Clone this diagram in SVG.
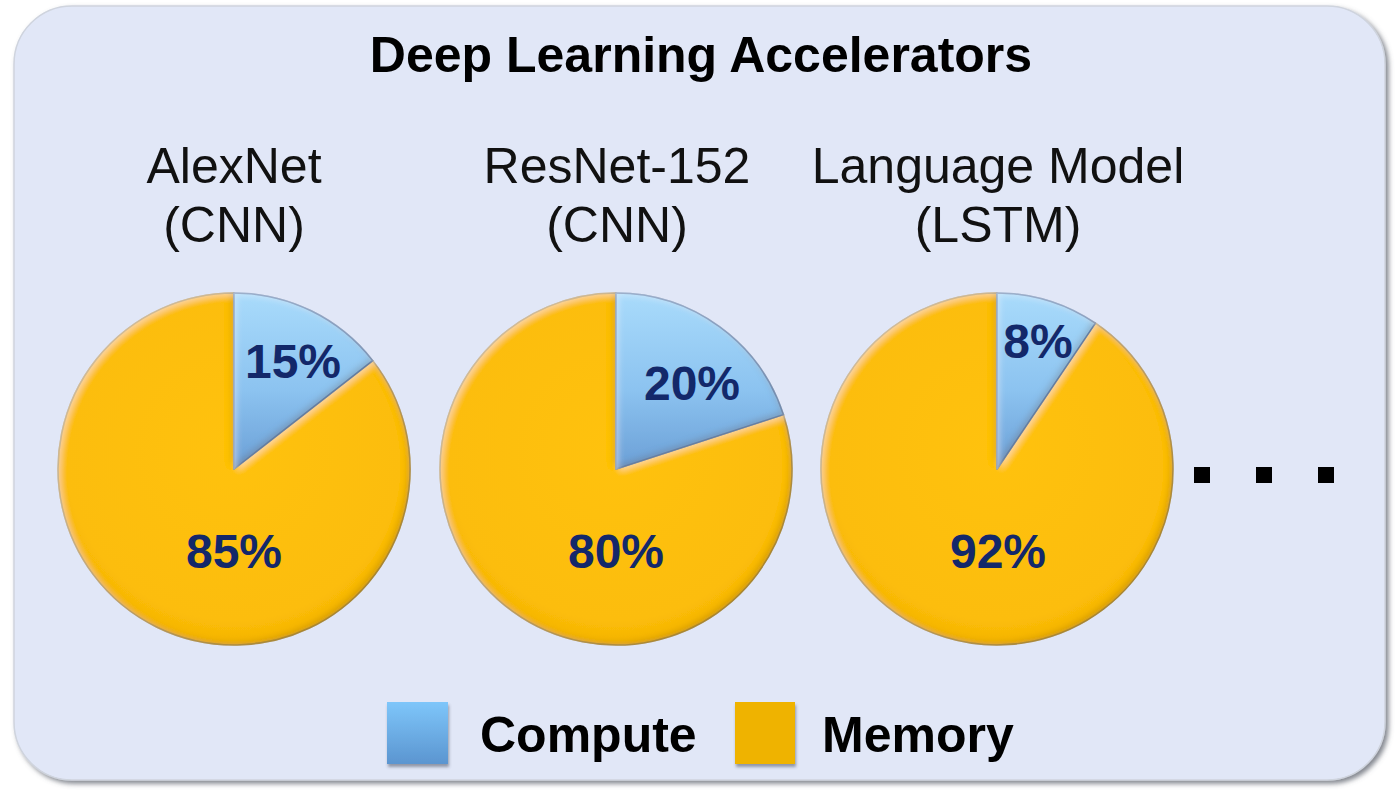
<svg xmlns="http://www.w3.org/2000/svg" width="1397" height="792" viewBox="0 0 1397 792">
  <defs>
    <filter id="panelShadow" x="-5%" y="-5%" width="110%" height="110%">
      <feGaussianBlur in="SourceAlpha" stdDeviation="2.5"/>
      <feOffset dx="3" dy="3" result="b"/>
      <feFlood flood-color="#5a5f6a" flood-opacity="0.75"/>
      <feComposite in2="b" operator="in"/>
      <feMerge><feMergeNode/><feMergeNode in="SourceGraphic"/></feMerge>
    </filter>
    <!-- soft bevel for the pie slices: light rim top-left, dark rim bottom-right -->
    <filter id="bevel" x="-5%" y="-5%" width="110%" height="110%">
      <feOffset in="SourceAlpha" dx="-3" dy="-3"/>
      <feGaussianBlur stdDeviation="3" result="shUp"/>
      <feComposite in="SourceAlpha" in2="shUp" operator="out" result="rimDark"/>
      <feFlood flood-color="#6b5200" flood-opacity="0.35"/>
      <feComposite in2="rimDark" operator="in" result="dark"/>
      <feOffset in="SourceAlpha" dx="3" dy="3"/>
      <feGaussianBlur stdDeviation="3" result="shDown"/>
      <feComposite in="SourceAlpha" in2="shDown" operator="out" result="rimLight"/>
      <feFlood flood-color="#ffffff" flood-opacity="0.35"/>
      <feComposite in2="rimLight" operator="in" result="light"/>
      <feMerge><feMergeNode in="SourceGraphic"/><feMergeNode in="dark"/><feMergeNode in="light"/></feMerge>
    </filter>
    <filter id="swatchShadow" x="-20%" y="-20%" width="140%" height="150%">
      <feGaussianBlur in="SourceAlpha" stdDeviation="1.5"/>
      <feOffset dx="1" dy="3" result="b"/>
      <feFlood flood-color="#404858" flood-opacity="0.5"/>
      <feComposite in2="b" operator="in"/>
      <feMerge><feMergeNode/><feMergeNode in="SourceGraphic"/></feMerge>
    </filter>
    <radialGradient id="memFill" cx="50%" cy="45%" r="60%">
      <stop offset="0" stop-color="#ffc20c"/>
      <stop offset="0.8" stop-color="#fcbd08"/>
      <stop offset="1" stop-color="#eeac00"/>
    </radialGradient>
    <linearGradient id="compFill" x1="0" y1="0" x2="0" y2="1">
      <stop offset="0" stop-color="#a9dbfb"/>
      <stop offset="0.55" stop-color="#8cc3f0"/>
      <stop offset="1" stop-color="#6b9fd6"/>
    </linearGradient>
    <linearGradient id="compSwatch" x1="0" y1="0" x2="0" y2="1">
      <stop offset="0" stop-color="#7ec6fa"/>
      <stop offset="1" stop-color="#5b95d0"/>
    </linearGradient>
    <style>
      .title { font-family: "Liberation Sans", Arial, sans-serif; font-weight: bold; font-size: 50px; fill: #000; text-anchor: middle; }
      .model { font-family: "Liberation Sans", Arial, sans-serif; font-size: 50px; fill: #111; text-anchor: middle; }
      .pct { font-family: "Liberation Sans", Arial, sans-serif; font-weight: bold; font-size: 48px; fill: #13286a; text-anchor: middle; }
      .legend { font-family: "Liberation Sans", Arial, sans-serif; font-weight: bold; font-size: 50px; fill: #000; }
      .mem { fill: url(#memFill); stroke: #b8922a; stroke-width: 1.5; stroke-linejoin: round; filter: url(#bevel); }
      .comp { fill: url(#compFill); stroke: #5a86b8; stroke-width: 1.5; stroke-linejoin: round; filter: url(#bevel); }
      .dot { fill: #000; }
    </style>
  </defs>

  <rect width="1397" height="792" fill="#ffffff"/>

  <!-- background panel -->
  <rect id="panel" x="14" y="6" width="1371" height="774" rx="58" ry="58" fill="#e1e7f7" stroke="#cfd4de" stroke-width="1.5" filter="url(#panelShadow)"/>

  <text id="title" class="title" x="701" y="72">Deep Learning Accelerators</text>

  <!-- AlexNet -->
  <g id="alexnet">
    <text class="model" x="234" y="183">AlexNet</text>
    <text class="model" x="234" y="242">(CNN)</text>
    <path class="mem" d="M234,469 L372.7,360.6 A176,176 0 1 1 234,293 Z"/>
    <path class="comp" d="M234,469 L234,293 A176,176 0 0 1 372.7,360.6 Z"/>
    <text class="pct" x="293" y="378">15%</text>
    <text class="pct" x="234" y="568">85%</text>
  </g>

  <!-- ResNet-152 -->
  <g id="resnet152">
    <text class="model" x="617" y="183">ResNet-152</text>
    <text class="model" x="617" y="242">(CNN)</text>
    <path class="mem" d="M616,469 L783.4,414.6 A176,176 0 1 1 616,293 Z"/>
    <path class="comp" d="M616,469 L616,293 A176,176 0 0 1 783.4,414.6 Z"/>
    <text class="pct" x="692" y="400">20%</text>
    <text class="pct" x="616" y="568">80%</text>
  </g>

  <!-- Language model -->
  <g id="lstm">
    <text class="model" x="998" y="183">Language Model</text>
    <text class="model" x="998" y="242">(LSTM)</text>
    <path class="mem" d="M997,469 L1095.4,323.1 A176,176 0 1 1 997,293 Z"/>
    <path class="comp" d="M997,469 L997,293 A176,176 0 0 1 1095.4,323.1 Z"/>
    <text class="pct" x="1038" y="358">8%</text>
    <text class="pct" x="998" y="568">92%</text>
  </g>

  <!-- ellipsis -->
  <g id="more">
    <rect class="dot" x="1194" y="467" width="16" height="16"/>
    <rect class="dot" x="1256" y="467" width="16" height="16"/>
    <rect class="dot" x="1318" y="467" width="16" height="16"/>
  </g>

  <!-- legend -->
  <g id="legend">
    <rect x="387" y="702" width="61" height="62" fill="url(#compSwatch)" filter="url(#swatchShadow)"/>
    <text class="legend" x="480" y="752">Compute</text>
    <rect x="735" y="702" width="60" height="62" fill="#efb300" filter="url(#swatchShadow)"/>
    <text class="legend" x="822" y="752">Memory</text>
  </g>
</svg>
